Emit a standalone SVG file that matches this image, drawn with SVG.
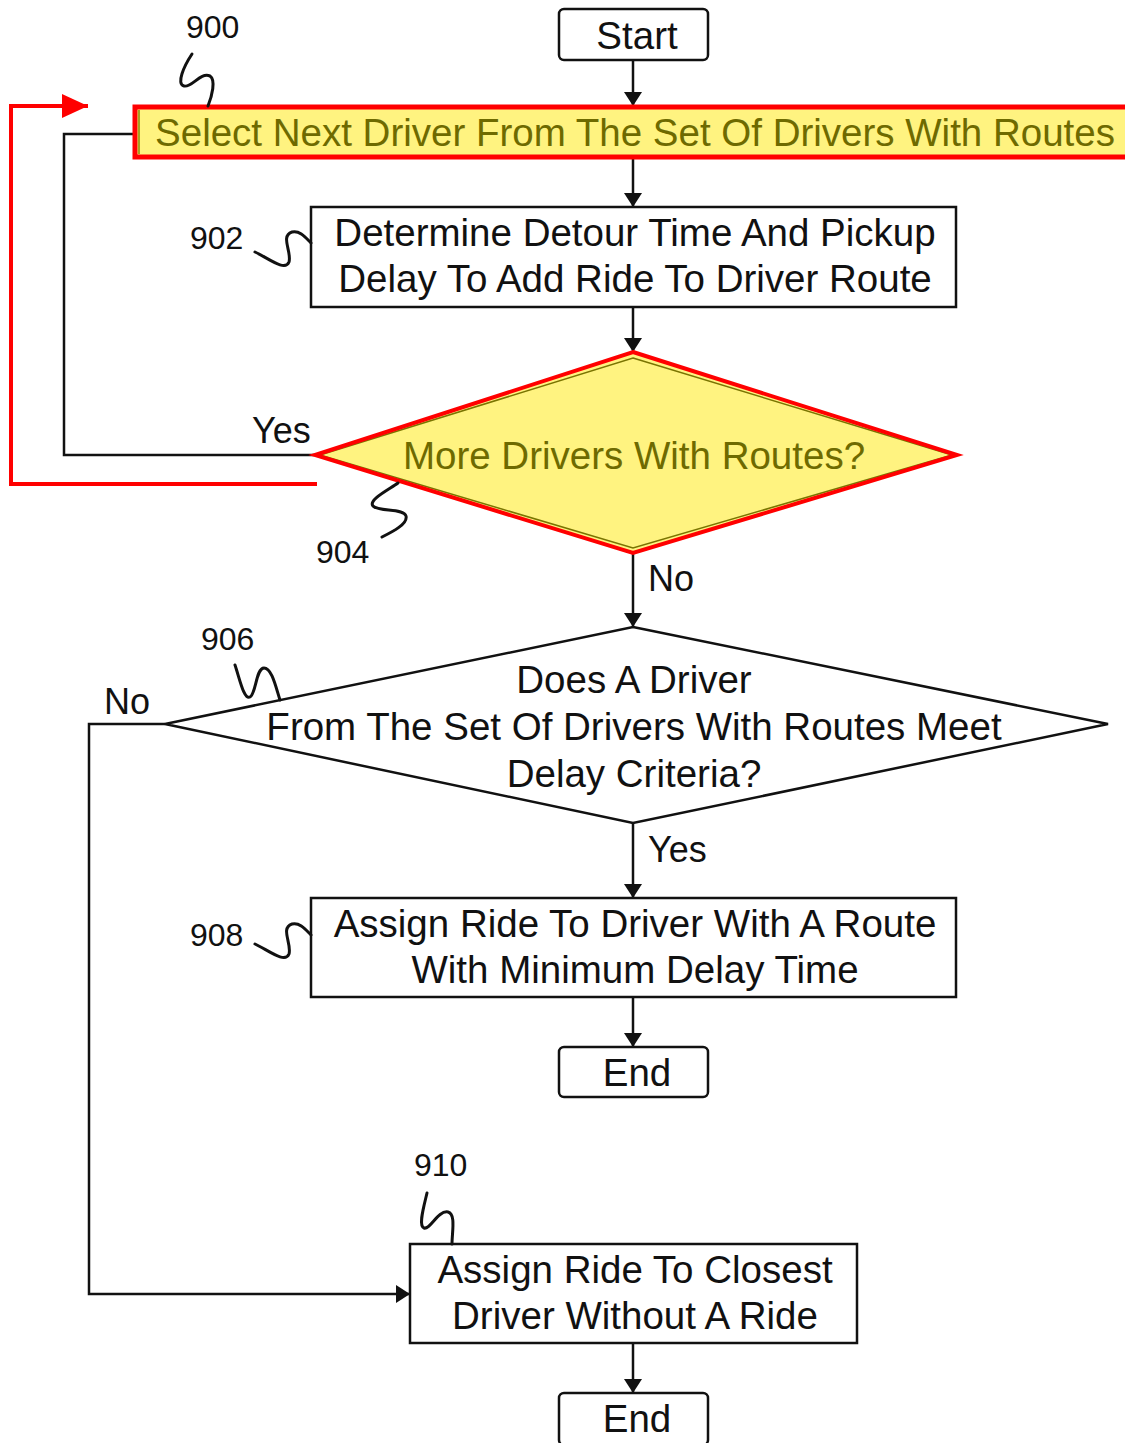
<svg xmlns="http://www.w3.org/2000/svg" width="1125" height="1443" viewBox="0 0 1125 1443">
<style>
.t{font-family:"Liberation Sans",Arial,sans-serif;font-size:38.5px;fill:#111;text-anchor:middle}
.hl{fill:#6e6a00}
.lbl{font-family:"Liberation Sans",Arial,sans-serif;font-size:32px;fill:#111}
.yn{font-family:"Liberation Sans",Arial,sans-serif;font-size:36px;fill:#111}
.box{fill:#fff;stroke:#111;stroke-width:2.5}
.ln{fill:none;stroke:#111;stroke-width:2.5}
.red{fill:none;stroke:#ff0000;stroke-width:4}
.sq{fill:none;stroke:#111;stroke-width:3;stroke-linecap:round}
</style>
<defs>
<marker id="ah" viewBox="0 0 14 18" refX="14" refY="9" markerWidth="14" markerHeight="18" markerUnits="userSpaceOnUse" orient="auto">
<path d="M0,0 L14,9 L0,18 Z" fill="#111"/>
</marker>
<marker id="ahr" viewBox="0 0 26 24" refX="26" refY="12" markerWidth="26" markerHeight="24" markerUnits="userSpaceOnUse" orient="auto">
<path d="M0,0 L26,12 L0,24 Z" fill="#ff0000"/>
</marker>
</defs>

<g id="connectors">
<line class="ln" x1="633" y1="60" x2="633" y2="106" marker-end="url(#ah)"/>
<line class="ln" x1="633" y1="157" x2="633" y2="207" marker-end="url(#ah)"/>
<line class="ln" x1="633" y1="307" x2="633" y2="352" marker-end="url(#ah)"/>
<polyline class="ln" points="135,134 64,134 64,455 315,455"/>
<polyline class="red" points="317,484 11,484 11,106 88,106" marker-end="url(#ahr)"/>
<line class="ln" x1="633" y1="553" x2="633" y2="627" marker-end="url(#ah)"/>
<polyline class="ln" points="165,724 89,724 89,1294 410,1294" marker-end="url(#ah)"/>
<line class="ln" x1="633" y1="823" x2="633" y2="898" marker-end="url(#ah)"/>
<line class="ln" x1="633" y1="997" x2="633" y2="1047" marker-end="url(#ah)"/>
<line class="ln" x1="633" y1="1343" x2="633" y2="1393" marker-end="url(#ah)"/>
<text class="yn" x="252" y="443">Yes</text>
<text class="yn" x="648" y="591">No</text>
<text class="yn" x="104" y="714">No</text>
<text class="yn" x="648" y="862">Yes</text>
</g>

<g id="start">
<rect class="box" x="559" y="9" width="149" height="51" rx="5"/>
<text class="t" x="637" y="49">Start</text>
</g>

<g id="n900">
<rect x="135" y="107" width="1000" height="50" fill="#fff380" stroke="#ff0000" stroke-width="5"/>
<line x1="139" y1="110" x2="139" y2="154" stroke="#8a8400" stroke-width="1.5"/>
<text class="t hl" x="635" y="146">Select Next Driver From The Set Of Drivers With Routes</text>
<text class="lbl" x="186" y="38">900</text>
<path class="sq" d="M192,54 C184,66 176,84 184,86 C192,88 200,72 210,76 C216,80 212,96 208,106"/>
</g>

<g id="n902">
<rect class="box" x="311" y="207" width="645" height="100"/>
<text class="t" x="635" y="246">Determine Detour Time And Pickup</text>
<text class="t" x="635" y="292">Delay To Add Ride To Driver Route</text>
<text class="lbl" x="190" y="249">902</text>
<path class="sq" d="M255,252 C268,258 285,272 289,262 C292,252 280,236 292,232 C300,230 306,238 311,243"/>
</g>

<g id="n904">
<polygon points="633,352 957,455 633,553 315,455" fill="#fff380"/>
<polygon points="633,358 952,455 633,548 320,455" fill="none" stroke="#7a7400" stroke-width="1.5"/>
<polygon points="633,352 957,455 633,553 315,455" fill="none" stroke="#ff0000" stroke-width="4" stroke-linejoin="miter"/>
<text class="t hl" x="634" y="469">More Drivers With Routes?</text>
<text class="lbl" x="316" y="563">904</text>
<path class="sq" d="M398,483 C388,490 368,500 373,506 C378,512 404,508 406,516 C408,524 392,532 382,537"/>
</g>

<g id="n906">
<polygon class="box" points="633,627 1108,724 633,823 165,724"/>
<text class="t" x="634" y="693">Does A Driver</text>
<text class="t" x="634" y="740">From The Set Of Drivers With Routes Meet</text>
<text class="t" x="634" y="787">Delay Criteria?</text>
<text class="lbl" x="201" y="650">906</text>
<path class="sq" d="M235,665 C240,680 244,700 250,697 C256,694 256,668 264,668 C272,668 276,688 280,700"/>
</g>

<g id="n908">
<rect class="box" x="311" y="898" width="645" height="99"/>
<text class="t" x="635" y="937">Assign Ride To Driver With A Route</text>
<text class="t" x="635" y="983">With Minimum Delay Time</text>
<text class="lbl" x="190" y="946">908</text>
<path class="sq" transform="translate(0,692)" d="M255,252 C268,258 285,272 289,262 C292,252 280,236 292,232 C300,230 306,238 311,243"/>
</g>

<g id="end1">
<rect class="box" x="559" y="1047" width="149" height="50" rx="5"/>
<text class="t" x="637" y="1086">End</text>
</g>

<g id="n910">
<rect class="box" x="410" y="1244" width="447" height="99"/>
<text class="t" x="635" y="1283">Assign Ride To Closest</text>
<text class="t" x="635" y="1329">Driver Without A Ride</text>
<text class="lbl" x="414" y="1176">910</text>
<path class="sq" d="M427,1193 C424,1206 418,1226 424,1228 C430,1230 438,1210 448,1212 C456,1214 452,1232 452,1244"/>
</g>

<g id="end2">
<rect class="box" x="559" y="1393" width="149" height="52" rx="5"/>
<text class="t" x="637" y="1432">End</text>
</g>
</svg>
